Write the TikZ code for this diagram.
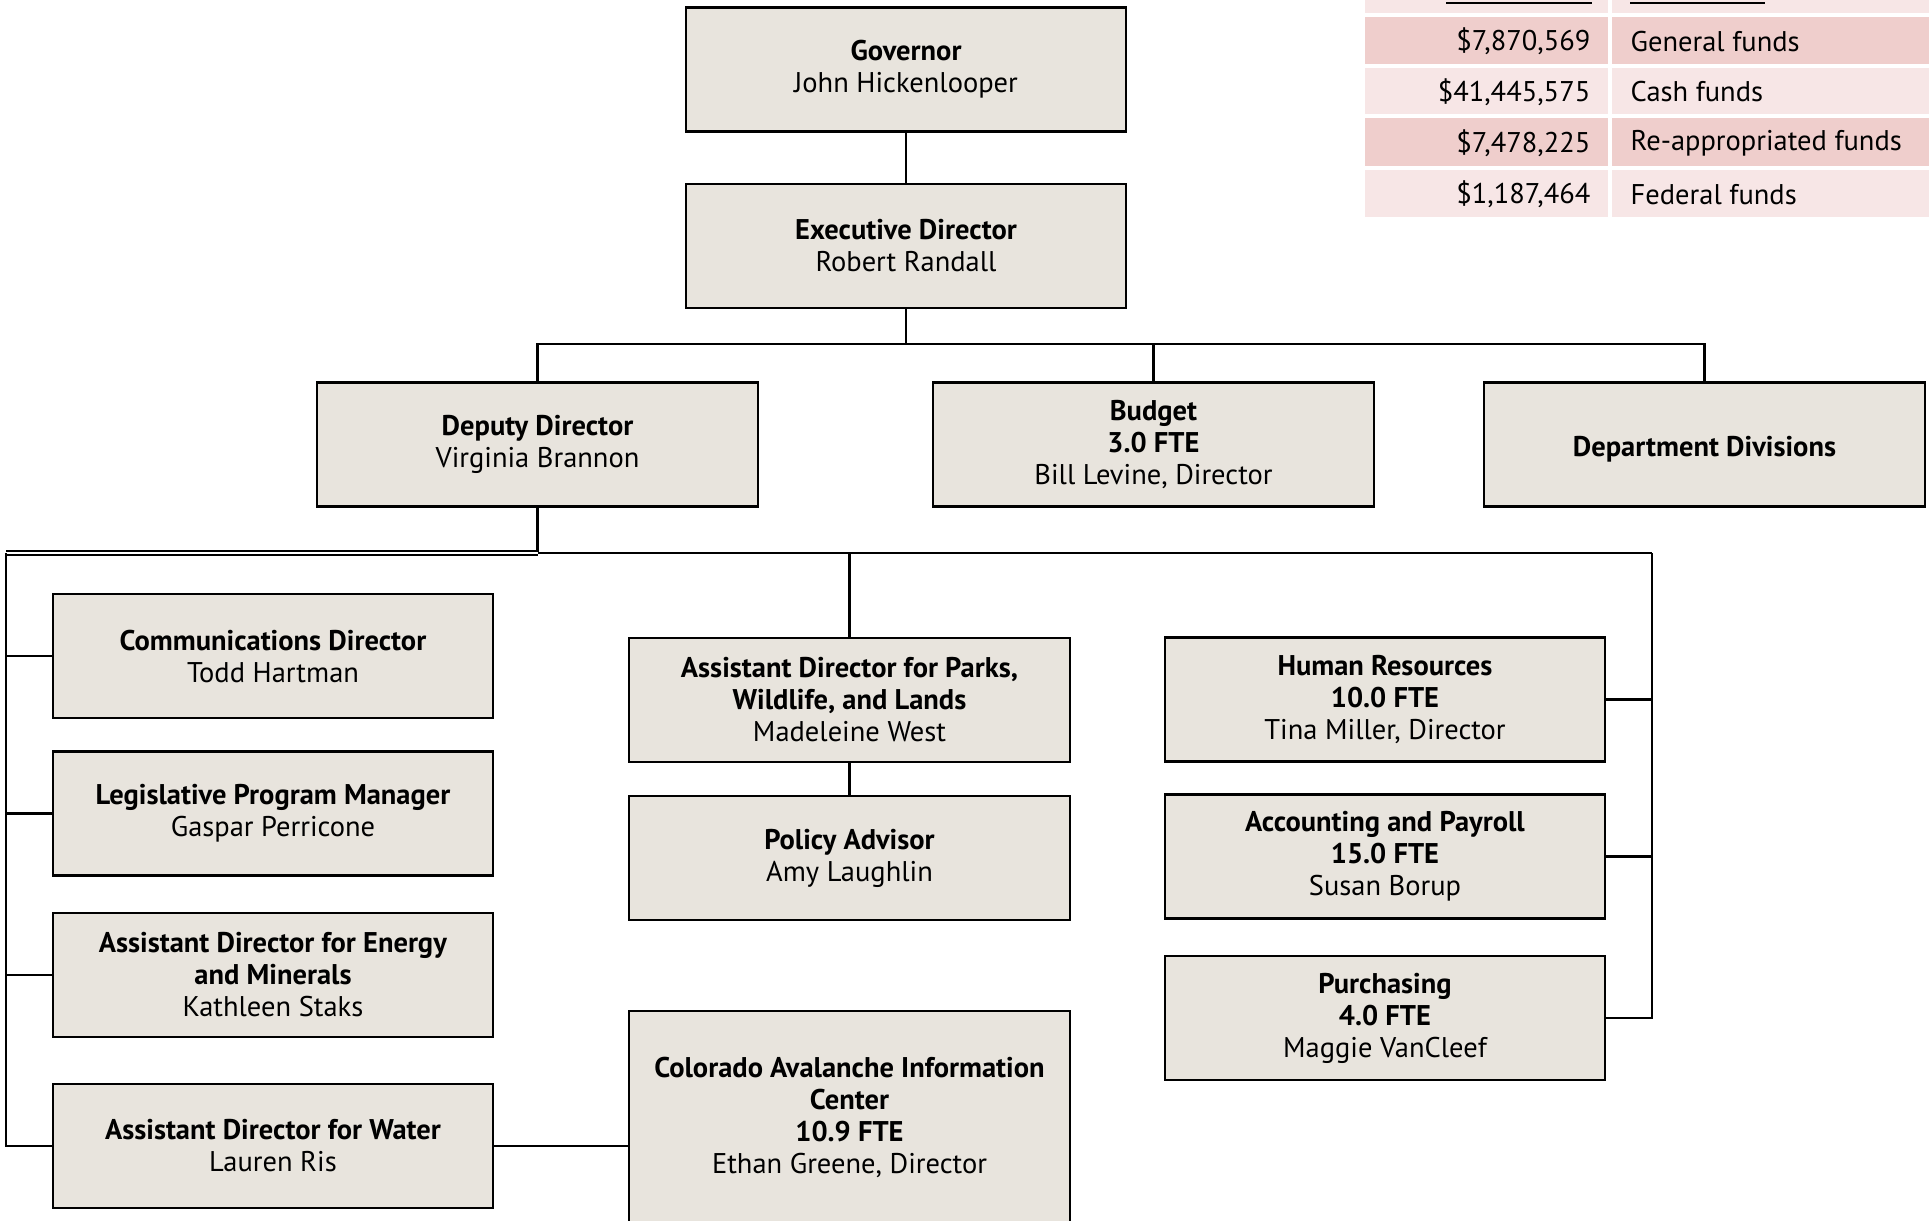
\documentclass[tikz,border=0pt]{standalone}
\usepackage{fontspec}
\setmainfont{PT Sans}
\definecolor{boxfill}{HTML}{E8E4DD}
\definecolor{rowdark}{HTML}{EFCECC}
\definecolor{rowlight}{HTML}{F7E6E6}
\tikzset{
  unit/.style={draw, line width=0.6pt, fill=boxfill, align=center, inner sep=0pt,
    minimum width=4.4cm, minimum height=1.24cm, font=\fontsize{8.1}{9.1}\selectfont,
    execute at begin node={\rule{0pt}{8.2pt}}},
  link/.style={line width=0.6pt},
  dbl/.style={line width=0.55pt, double, double distance=0.7pt},
  cell/.style={inner sep=0pt, font=\fontsize{8.1}{9.1}\selectfont}
}
\begin{document}
\begin{tikzpicture}[x=0.01cm, y=-0.01cm]
\useasboundingbox (0,0) rectangle (1929,1220);

\node[unit] (gov)    at (906,69.5)    {\textbf{Governor}\\John Hickenlooper};
\node[unit] (exec)   at (906,246)     {\textbf{Executive Director}\\Robert Randall};
\node[unit] (dep)    at (537.5,444.5) {\textbf{Deputy Director}\\Virginia Brannon};
\node[unit] (bud)    at (1153.5,444.5) {\textbf{Budget}\\\textbf{3.0 FTE}\\Bill Levine, Director};
\node[unit] (div)    at (1704.5,444.5) {\textbf{Department Divisions}};

\node[unit] (comm)   at (273,656)     {\textbf{Communications Director}\\Todd Hartman};
\node[unit] (legis)  at (273,813.5)   {\textbf{Legislative Program Manager}\\Gaspar Perricone};
\node[unit] (energy) at (273,975)     {\textbf{Assistant Director for Energy}\\\textbf{and Minerals}\\Kathleen Staks};
\node[unit] (water)  at (273,1146)    {\textbf{Assistant Director for Water}\\Lauren Ris};

\node[unit] (parks)  at (849.5,700)   {\textbf{Assistant Director for Parks,}\\\textbf{Wildlife, and Lands}\\Madeleine West};
\node[unit] (policy) at (849.5,858)   {\textbf{Policy Advisor}\\Amy Laughlin};
\node[unit, minimum height=2.12cm] (caic) at (849.5,1117) {\textbf{Colorado Avalanche Information}\\\textbf{Center}\\\textbf{10.9 FTE}\\Ethan Greene, Director};

\node[unit] (hr)     at (1385,699.5)  {\textbf{Human Resources}\\\textbf{10.0 FTE}\\Tina Miller, Director};
\node[unit] (acct)   at (1385,856.5)  {\textbf{Accounting and Payroll}\\\textbf{15.0 FTE}\\Susan Borup};
\node[unit] (purch)  at (1385,1018)   {\textbf{Purchasing}\\\textbf{4.0 FTE}\\Maggie VanCleef};

\coordinate (bus1) at (906,344);
\coordinate (bus2) at (537.5,553);
\coordinate (lbus) at (6,553);
\coordinate (rbus) at (1652,553);

\draw[link] (gov) -- (exec);
\draw[link] (exec) -- (bus1);
\draw[link] (dep.north) |- (bus1) -| (div.north);
\draw[link] (bud.north) -- (bud.north |- bus1);
\draw[link] (dep) -- (bus2);
\draw[dbl] (lbus) -- (bus2);
\draw[link] (bus2) -- (rbus);

\draw[link] (lbus) |- (water.west);
\draw[link] (comm.west) -- (comm.west -| lbus);
\draw[link] (legis.west) -- (legis.west -| lbus);
\draw[link] (energy.west) -- (energy.west -| lbus);
\draw[link] (water.east) -- (water.east -| caic.west);

\draw[link] (parks.north) -- (parks.north |- bus2);
\draw[link] (parks) -- (policy);

\draw[link] (rbus) |- (purch.east);
\draw[link] (hr.east) -- (hr.east -| rbus);
\draw[link] (acct.east) -- (acct.east -| rbus);

% funding table
\fill[rowlight] (1365,-5) rectangle (1608,13);
\fill[rowlight] (1612,-5) rectangle (1929,13);
\draw[line width=0.5pt] (1446,3) -- (1592,3);
\draw[line width=0.5pt] (1630,3) -- (1765,3);
\fill[rowdark]  (1365,17)  rectangle (1608,64);
\fill[rowdark]  (1612,17)  rectangle (1929,64);
\fill[rowlight] (1365,68)  rectangle (1608,114);
\fill[rowlight] (1612,68)  rectangle (1929,114);
\fill[rowdark]  (1365,118) rectangle (1608,166);
\fill[rowdark]  (1612,118) rectangle (1929,166);
\fill[rowlight] (1365,170) rectangle (1608,217);
\fill[rowlight] (1612,170) rectangle (1929,217);

\node[cell, anchor=east] (amt1) at (1591,41.5) {\$7,870,569};
\node[cell, anchor=east] (amt2) at (1591,92)   {\$41,445,575};
\node[cell, anchor=east] (amt3) at (1591,143)  {\$7,478,225};
\node[cell, anchor=east] (amt4) at (1591,194.5) {\$1,187,464};
\node[cell, anchor=west] (src1) at (1630,41.5) {General funds};
\node[cell, anchor=west] (src2) at (1630,92)   {Cash funds};
\node[cell, anchor=west] (src3) at (1630,143)  {Re-appropriated funds};
\node[cell, anchor=west] (src4) at (1630,194.5) {Federal funds};

\end{tikzpicture}
\end{document}
